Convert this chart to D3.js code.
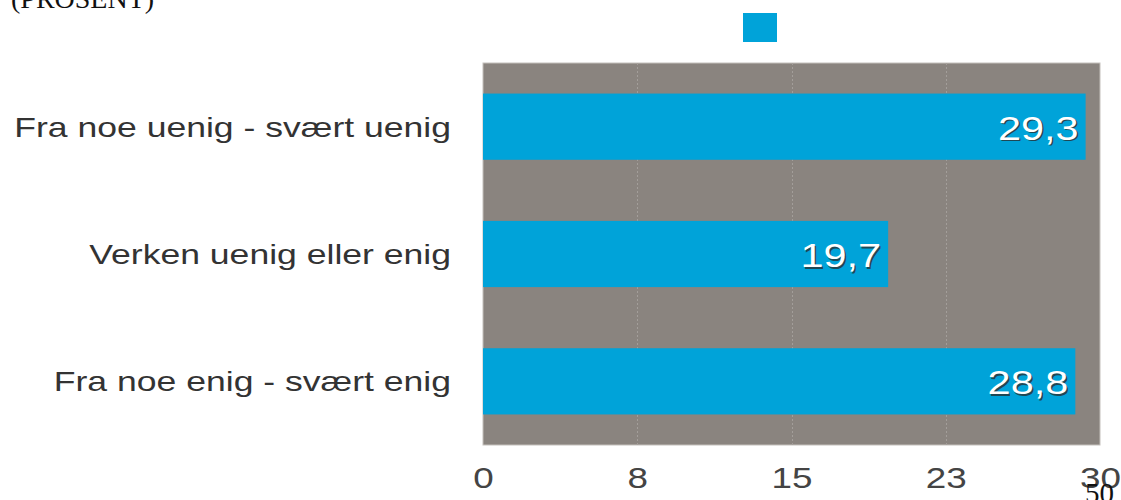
<!DOCTYPE html>
<html>
<head>
<meta charset="utf-8">
<script src="https://cdn.jsdelivr.net/npm/d3@7"></script>
<style>
  html, body { margin: 0; padding: 0; background: #fff; }
  svg { display: block; }
</style>
</head>
<body>
<svg id="chart" width="1121" height="500"></svg>
<script>
// Survey answers, share of respondents in percent
const categories = ["Fra noe uenig - svært uenig", "Verken uenig eller enig", "Fra noe enig - svært enig"];
const values = [29.3, 19.7, 28.8];
const valueLabels = ["29,3", "19,7", "28,8"];
const tickValues = [0, 7.5, 15, 22.5, 30];
const tickLabels = ["0", "8", "15", "23", "30"];
const title = "(PROSENT)";
const pageNumber = "50";

const svg = d3.select("#chart");
const plot = { left: 483, right: 1100, top: 63, bottom: 445 };
const sans = "'Liberation Sans', Arial, Helvetica, sans-serif";
const stretch = 1.27; // wide sans face, drawn as horizontally stretched Arial

const x = d3.scaleLinear().domain([0, 30]).range([plot.left, plot.right]);
const y = d3.scaleBand().domain(categories).range([plot.top, plot.bottom])
  .paddingInner(0.48).paddingOuter(0.24);

// plot background
svg.append("rect")
  .attr("x", plot.left).attr("y", plot.top)
  .attr("width", plot.right - plot.left).attr("height", plot.bottom - plot.top)
  .attr("fill", "#8a847f")
  .attr("stroke", "#c4c0bc").attr("stroke-width", 1);

// vertical gridlines
svg.append("g").selectAll("line")
  .data(tickValues.slice(1, -1))
  .join("line")
  .attr("x1", d => Math.round(x(d)) + 0.5).attr("x2", d => Math.round(x(d)) + 0.5)
  .attr("y1", plot.top).attr("y2", plot.bottom)
  .attr("stroke", "#a39e9a").attr("stroke-width", 1)
  .attr("stroke-dasharray", "2,2");

// bars
svg.append("g").selectAll("rect")
  .data(values)
  .join("rect")
  .attr("x", x(0))
  .attr("y", (d, i) => y(categories[i]))
  .attr("width", d => x(d) - x(0))
  .attr("height", y.bandwidth())
  .attr("fill", "#00a3d9");

// value labels with a soft dark shadow
const vl = svg.append("g")
  .attr("font-family", sans)
  .attr("font-size", 34)
  .attr("text-anchor", "end");
[["#2a2a2a", 1.5, 0.75], ["#ffffff", 0, 1]].forEach(([c, off, op]) => {
  vl.append("g").selectAll("text")
    .data(values)
    .join("text")
    .attr("transform", (d, i) =>
      `translate(${x(d) - 7 + off},${y(categories[i]) + y.bandwidth() / 2 + 13 + off}) scale(1.22,1)`)
    .attr("fill", c).attr("opacity", op)
    .text((d, i) => valueLabels[i]);
});

// category axis labels
svg.append("g").selectAll("text")
  .data(categories)
  .join("text")
  .attr("transform", d => `translate(451,${y(d) + y.bandwidth() / 2 + 10}) scale(${stretch},1)`)
  .attr("text-anchor", "end")
  .attr("font-family", sans)
  .attr("font-size", 28)
  .attr("fill", "#333")
  .text(d => d);

// x axis
const xAxis = d3.axisBottom(x)
  .tickValues(tickValues)
  .tickFormat((d, i) => tickLabels[i])
  .tickSize(0).tickPadding(22);
const gx = svg.append("g")
  .attr("transform", `translate(0,${plot.bottom})`)
  .call(xAxis);
gx.select(".domain").remove();
gx.selectAll("text")
  .attr("font-family", sans)
  .attr("font-size", 29)
  .attr("fill", "#444")
  .attr("transform", `scale(${stretch},1)`);

// legend swatch
svg.append("rect")
  .attr("x", 743).attr("y", 13).attr("width", 34).attr("height", 29)
  .attr("fill", "#00a3d9");

// title and page number
svg.append("text")
  .attr("x", 11).attr("y", 7.5)
  .attr("font-family", "'Liberation Serif', 'Times New Roman', serif")
  .attr("font-size", 28).attr("fill", "#111")
  .text(title);
svg.append("text")
  .attr("x", 1085).attr("y", 503)
  .attr("font-family", "'Liberation Serif', 'Times New Roman', serif")
  .attr("font-size", 29).attr("fill", "#111")
  .text(pageNumber);
</script>
</body>
</html>
